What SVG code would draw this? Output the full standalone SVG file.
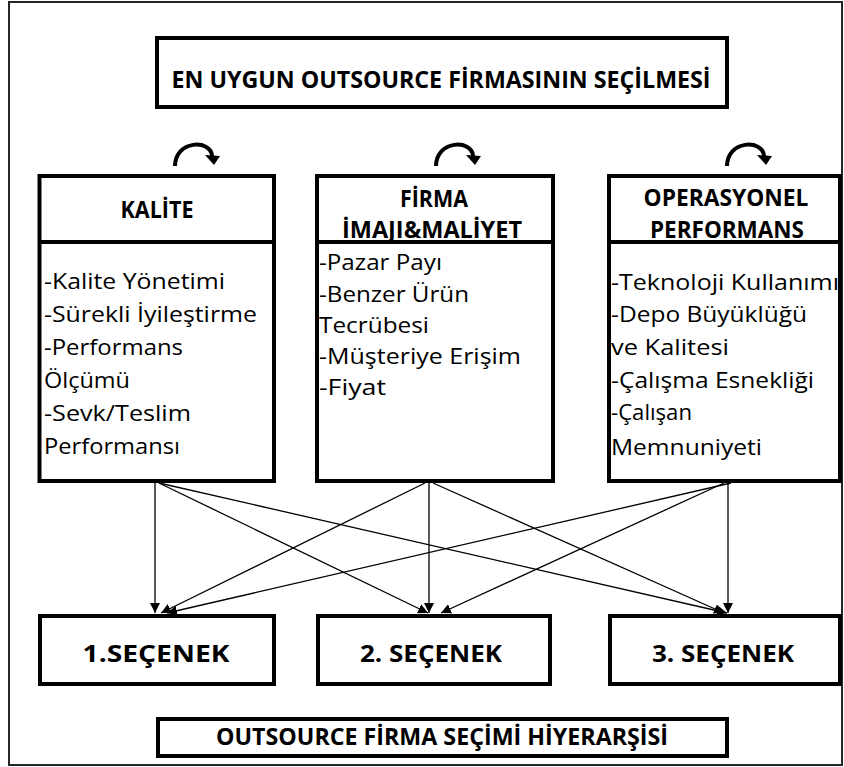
<svg xmlns="http://www.w3.org/2000/svg" width="844" height="767" viewBox="0 0 844 767">
  <style>
    .frame { fill: none; stroke: #262626; stroke-width: 2; }
    .box { fill: #ffffff; stroke: #000000; stroke-width: 4; }
    .div { stroke: #000000; stroke-width: 4; }
    .hd { font-family: "Open Sans", "Liberation Sans", sans-serif; font-weight: bold; font-size: 23px; fill: #000; text-anchor: middle; }
    .tx { font-family: "Open Sans", "Liberation Sans", sans-serif; font-size: 21px; fill: #000; }
    .edge { fill: none; stroke: #000; stroke-width: 1.3; marker-end: url(#head); }
    .cycle { fill: none; stroke: #000; stroke-width: 4; }
  </style>
  <defs>
    <marker id="head" viewBox="0 0 10 10" refX="10" refY="5" markerWidth="10" markerHeight="10" markerUnits="userSpaceOnUse" orient="auto">
      <path d="M0,0 L10,5 L0,10 Z" fill="#000"/>
    </marker>
    <g id="cycle-arrow">
      <path class="cycle" d="M0,21 C0,-5 36,-6 37,11"/>
      <polygon points="30,10 45,11 39,20" fill="#000"/>
    </g>
  </defs>

  <rect width="844" height="767" fill="#ffffff"/>
  <rect class="frame" x="9" y="2" width="833" height="763"/>

  <!-- goal -->
  <g id="goal">
    <rect class="box" x="157" y="38" width="570" height="69"/>
    <text class="hd" x="441" y="88" font-size="24" textLength="539" lengthAdjust="spacingAndGlyphs">EN UYGUN OUTSOURCE FİRMASININ SEÇİLMESİ</text>
  </g>

  <!-- feedback arrows above criteria -->
  <g id="cycles">
    <use href="#cycle-arrow" x="175" y="145"/>
    <use href="#cycle-arrow" x="436" y="145"/>
    <use href="#cycle-arrow" x="727" y="145"/>
  </g>

  <!-- criteria -->
  <g id="kalite">
    <rect class="box" x="39.5" y="176" width="234.5" height="305"/>
    <line class="div" x1="39.5" y1="242" x2="274" y2="242"/>
    <text class="hd" x="157" y="218" textLength="73" lengthAdjust="spacingAndGlyphs">KALİTE</text>
    <text class="tx" x="44" y="289" textLength="181" lengthAdjust="spacingAndGlyphs">-Kalite Yönetimi</text>
    <text class="tx" x="44" y="322" textLength="213" lengthAdjust="spacingAndGlyphs">-Sürekli İyileştirme</text>
    <text class="tx" x="44" y="355" textLength="139" lengthAdjust="spacingAndGlyphs">-Performans</text>
    <text class="tx" x="44" y="388" textLength="86" lengthAdjust="spacingAndGlyphs">Ölçümü</text>
    <text class="tx" x="44" y="421" textLength="147" lengthAdjust="spacingAndGlyphs">-Sevk/Teslim</text>
    <text class="tx" x="44" y="454" textLength="136" lengthAdjust="spacingAndGlyphs">Performansı</text>
  </g>

  <g id="firma">
    <rect class="box" x="317" y="176" width="236" height="305"/>
    <line class="div" x1="317" y1="242" x2="553" y2="242"/>
    <text class="hd" x="434" y="207" textLength="68" lengthAdjust="spacingAndGlyphs">FİRMA</text>
    <text class="hd" x="432" y="238" textLength="180" lengthAdjust="spacingAndGlyphs">İMAJI&amp;MALİYET</text>
    <text class="tx" x="319" y="270" textLength="123" lengthAdjust="spacingAndGlyphs">-Pazar Payı</text>
    <text class="tx" x="319" y="302" textLength="150" lengthAdjust="spacingAndGlyphs">-Benzer Ürün</text>
    <text class="tx" x="319" y="333" textLength="110" lengthAdjust="spacingAndGlyphs">Tecrübesi</text>
    <text class="tx" x="319" y="364" textLength="202" lengthAdjust="spacingAndGlyphs">-Müşteriye Erişim</text>
    <text class="tx" x="319" y="395" textLength="67" lengthAdjust="spacingAndGlyphs">-Fiyat</text>
  </g>

  <g id="operasyonel">
    <rect class="box" x="609" y="176" width="231" height="305"/>
    <line class="div" x1="609" y1="242" x2="840" y2="242"/>
    <text class="hd" x="726" y="206" textLength="165" lengthAdjust="spacingAndGlyphs">OPERASYONEL</text>
    <text class="hd" x="727" y="238" textLength="154" lengthAdjust="spacingAndGlyphs">PERFORMANS</text>
    <text class="tx" x="611" y="290" textLength="228" lengthAdjust="spacingAndGlyphs">-Teknoloji Kullanımı</text>
    <text class="tx" x="611" y="322" textLength="196" lengthAdjust="spacingAndGlyphs">-Depo Büyüklüğü</text>
    <text class="tx" x="611" y="355" textLength="118" lengthAdjust="spacingAndGlyphs">ve Kalitesi</text>
    <text class="tx" x="611" y="388" textLength="203" lengthAdjust="spacingAndGlyphs">-Çalışma Esnekliği</text>
    <text class="tx" x="611" y="420" textLength="81" lengthAdjust="spacingAndGlyphs">-Çalışan</text>
    <text class="tx" x="611" y="455" textLength="151" lengthAdjust="spacingAndGlyphs">Memnuniyeti</text>
  </g>

  <!-- connectors: every criterion to every alternative -->
  <g id="connectors">
    <line class="edge" x1="155" y1="483" x2="155" y2="613"/>
    <line class="edge" x1="159" y1="483" x2="428" y2="613"/>
    <line class="edge" x1="159" y1="483" x2="727" y2="613"/>
    <line class="edge" x1="429" y1="483" x2="429" y2="613"/>
    <line class="edge" x1="425" y1="483" x2="161" y2="613"/>
    <line class="edge" x1="433" y1="483" x2="724" y2="613"/>
    <line class="edge" x1="728" y1="483" x2="728" y2="613"/>
    <line class="edge" x1="731" y1="483" x2="167" y2="613"/>
    <line class="edge" x1="724" y1="483" x2="441" y2="613"/>
  </g>

  <!-- alternatives -->
  <g id="secenek-1">
    <rect class="box" x="40" y="616" width="234" height="68"/>
    <text class="hd" x="156" y="662" textLength="147" lengthAdjust="spacingAndGlyphs">1.SEÇENEK</text>
  </g>
  <g id="secenek-2">
    <rect class="box" x="318" y="616" width="232" height="68"/>
    <text class="hd" x="431" y="662" textLength="142" lengthAdjust="spacingAndGlyphs">2. SEÇENEK</text>
  </g>
  <g id="secenek-3">
    <rect class="box" x="610" y="616" width="230" height="68"/>
    <text class="hd" x="723" y="662" textLength="142" lengthAdjust="spacingAndGlyphs">3. SEÇENEK</text>
  </g>

  <!-- caption -->
  <g id="caption">
    <rect class="box" x="158" y="719" width="569" height="37"/>
    <text class="hd" x="442" y="745" font-size="21" textLength="452" lengthAdjust="spacingAndGlyphs">OUTSOURCE FİRMA SEÇİMİ HİYERARŞİSİ</text>
  </g>
</svg>
